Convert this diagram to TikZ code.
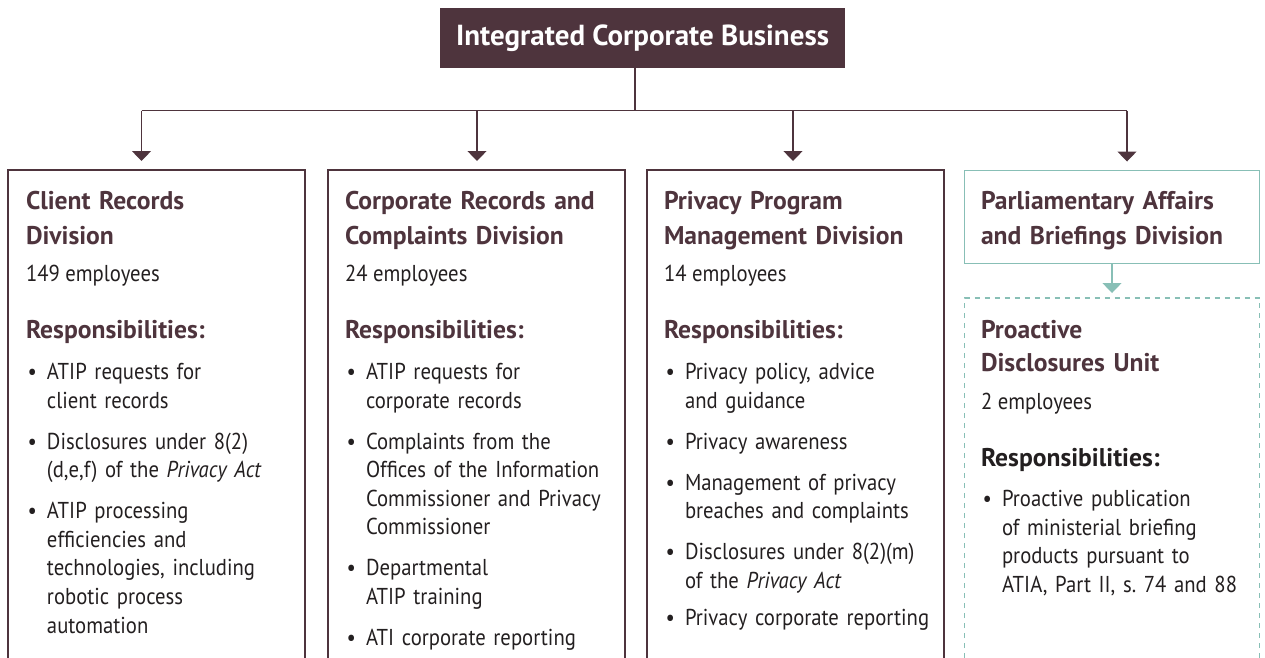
\documentclass[tikz,border=0pt]{standalone}
\usepackage{fontspec}
\setmainfont{PT Sans}[FakeStretch=0.9]
\newfontfamily\hdfont{PT Sans}
\usetikzlibrary{arrows.meta}
\definecolor{aub}{HTML}{4E343D}
\definecolor{tealc}{HTML}{88BFB6}
\definecolor{txt}{HTML}{231F20}
\frenchspacing
\newcommand{\bul}[1]{{\leftskip=21pt\noindent\llap{\textbullet\hspace{10pt}}#1\par}}
\newcommand{\igap}{\vspace{12.4pt}}
\begin{document}
\begin{tikzpicture}[x=1pt,y=-1pt,
  every node/.style={inner sep=0pt,outer sep=0pt},
  ln/.style={draw=aub,line width=1.3pt},
  arr/.style={ln,-{Triangle[width=19pt,length=10pt]}},
  tarr/.style={draw=tealc,line width=1.3pt,-{Triangle[width=19pt,length=10pt]}},
  frame/.style={minimum width=297pt,minimum height=530pt,anchor=north west},
  ttl/.style={anchor=base west,text width=290pt,align=left,text=aub,font=\hdfont\bfseries\fontsize{25.6}{35}\selectfont},
  emp/.style={anchor=base west,text=txt,font=\fontsize{23}{28.6}\selectfont},
  resp/.style={anchor=base west,text=aub,font=\hdfont\bfseries\fontsize{25.6}{30}\selectfont},
  lst/.style={anchor=base west,text width=275pt,align=left,text=txt,font=\fontsize{23}{28.6}\selectfont}
]
\useasboundingbox (0,0) rectangle (1265,657);

% top box
\node[fill=aub,minimum width=405pt,minimum height=60pt,text=white,
  font=\hdfont\bfseries\fontsize{29}{32}\selectfont] (top) at (642.5,38) {Integrated Corporate Business};

% division frames
\node[frame] (b1) at (8,170) {};
\node[frame] (b2) at (328,170) {};
\node[frame] (b3) at (647,170) {};
\node[draw=tealc,line width=1.3pt,minimum width=295pt,minimum height=93pt,anchor=north west] (b4) at (964.5,170.5) {};
\node[frame,minimum width=295pt] (b5) at (964.5,298) {};
\draw[ln] (b1.south west) |- (b1.north east) -- (b1.south east);
\draw[ln] (b2.south west) |- (b2.north east) -- (b2.south east);
\draw[ln] (b3.south west) |- (b3.north east) -- (b3.south east);
\draw[draw=tealc,line width=1.3pt,dash pattern=on 5pt off 5pt] (b5.south west) |- (b5.north east) -- (b5.south east);

% connectors
\coordinate (j) at (635,110.5);
\coordinate (a1) at (141.5,110.5);
\coordinate (a2) at (477,110.5);
\coordinate (a3) at (793,110.5);
\coordinate (a4) at (1127,110.5);
\draw[ln] (top.south -| j) -- (j);
\draw[ln] (a1) -- (a4);
\draw[arr] (a1) -- ([yshift=9pt]b1.north -| a1);
\draw[arr] (a2) -- ([yshift=9pt]b2.north -| a2);
\draw[arr] (a3) -- ([yshift=9pt]b3.north -| a3);
\draw[arr] (a4) -- ([yshift=9pt]b4.north -| a4);
\draw[tarr] (b4.south) -- ([yshift=5pt]b5.north);

% box 1
\node[ttl] (t1) at (26,209) {Client Records\newline Division};
\node[emp] (e1) at (26,281) {149 employees};
\node[resp] (r1) at (26,338) {Responsibilities:};
\node[lst] (l1) at (26,379.5) {\bul{ATIP requests for\newline client records}\igap
\bul{Disclosures under 8(2)\newline (d,e,f) of the \textit{Privacy Act}}\igap
\bul{ATIP processing\newline efficiencies and\newline technologies, including\newline robotic process\newline automation}};

% box 2
\node[ttl] (t2) at (345,209) {Corporate Records and\newline Complaints Division};
\node[emp] (e2) at (345,281) {24 employees};
\node[resp] (r2) at (345,338) {Responsibilities:};
\node[lst] (l2) at (345,379.5) {\bul{ATIP requests for\newline corporate records}\igap
\bul{Complaints from the\newline Offices of the Information\newline Commissioner and Privacy\newline Commissioner}\igap
\bul{Departmental\newline ATIP training}\igap
\bul{ATI corporate reporting}};

% box 3
\node[ttl] (t3) at (664,209) {Privacy Program\newline Management Division};
\node[emp] (e3) at (664,281) {14 employees};
\node[resp] (r3) at (664,338) {Responsibilities:};
\node[lst] (l3) at (664,379.5) {\bul{Privacy policy, advice\newline and guidance}\igap
\bul{Privacy awareness}\igap
\bul{Management of privacy\newline breaches and complaints}\igap
\bul{Disclosures under 8(2)(m)\newline of the \textit{Privacy Act}}\vspace{9pt}
\bul{Privacy corporate reporting}};

% box 4
\node[ttl] (t4) at (981,209) {Parliamentary Affairs\newline and Briefings Division};

% box 5
\node[ttl,font=\hdfont\bfseries\fontsize{25.6}{32.5}\selectfont] (t5) at (981,338.5) {Proactive\newline Disclosures Unit};
\node[emp] (e5) at (981,409.5) {2 employees};
\node[resp,text=txt] (r5) at (981,466) {Responsibilities:};
\node[lst] (l5) at (981,506.5) {\bul{Proactive publication\newline of ministerial briefing\newline products pursuant to\newline ATIA, Part II, s.\ 74 and 88}};
\end{tikzpicture}
\end{document}
